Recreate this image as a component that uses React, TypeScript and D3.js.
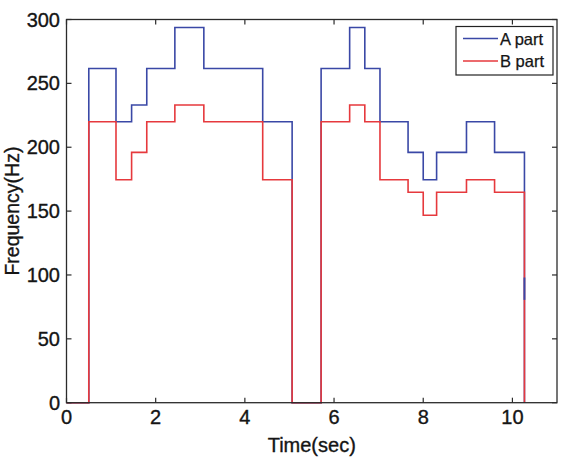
import React from "react";
import * as d3 from "d3";

// Segment start times (sec); each value holds until the next edge.
const EDGES = [0, 0.5, 1.11, 1.46, 1.8, 2.43, 3.08, 4.4, 5.06, 5.71, 6.35, 6.69, 7.03, 7.66, 8.0, 8.3, 8.97, 9.6, 10.27];
const A_PART = [0, 261.6, 220, 233.1, 261.6, 293.7, 261.6, 220, 0, 261.6, 293.7, 261.6, 220, 196, 174.6, 196, 220, 196, 0];
const B_PART = [0, 220, 174.6, 196, 220, 233.1, 220, 174.6, 0, 220, 233.1, 220, 174.6, 164.8, 146.8, 164.8, 174.6, 164.8, 0];
// Short residual of the A part at the final release
const A_TAIL = [98, 80.5];

const X_TICKS = [0, 2, 4, 6, 8, 10];
const Y_TICKS = [0, 50, 100, 150, 200, 250, 300];
const SERIES_NAMES = ["A part", "B part"];

const W = 564;
const H = 468;
const M = { left: 66.5, right: 557, top: 19.5, bottom: 402.7 };
const FONT = "'Liberation Sans', Arial, Helvetica, sans-serif";
const BLUE = "#3a48a6";
const RED = "#e6393d";
const AXIS = "#2b2b2b";
const INK = "#151515";

export default function App() {
  const x = d3.scaleLinear().domain([0, 11]).range([M.left, M.right]);
  const y = d3.scaleLinear().domain([0, 300]).range([M.bottom, M.top]);

  const stair = d3
    .line<[number, number]>()
    .x((d) => x(d[0]))
    .y((d) => y(d[1]))
    .curve(d3.curveStepAfter);

  const pts = (vals: number[]) => EDGES.map((t, i) => [t, vals[i]] as [number, number]);
  const lastT = EDGES[EDGES.length - 1];
  const tick = 5;
  const textProps = { fill: INK, stroke: INK, strokeWidth: 0.35 };

  return (
    <svg
      width={W}
      height={H}
      style={{ position: "absolute", left: 0, top: 0, background: "#fff" }}
      fontFamily={FONT}
    >
      <path d={stair(pts(A_PART)) || ""} fill="none" stroke={BLUE} strokeWidth={1.6} />
      <path d={stair(pts(B_PART)) || ""} fill="none" stroke={RED} strokeWidth={1.6} />
      <line
        x1={x(lastT)}
        x2={x(lastT)}
        y1={y(A_TAIL[0])}
        y2={y(A_TAIL[1])}
        stroke={BLUE}
        strokeWidth={1.8}
      />

      {/* axes box */}
      <rect
        x={M.left}
        y={M.top}
        width={M.right - M.left}
        height={M.bottom - M.top}
        fill="none"
        stroke={AXIS}
        strokeWidth={1.3}
      />

      {X_TICKS.map((t) => (
        <g key={"x" + t}>
          <line x1={x(t)} x2={x(t)} y1={M.bottom} y2={M.bottom - tick} stroke={AXIS} strokeWidth={1.2} />
          <line x1={x(t)} x2={x(t)} y1={M.top} y2={M.top + tick} stroke={AXIS} strokeWidth={1.2} />
          <text x={x(t)} y={M.bottom + 21} textAnchor="middle" fontSize={20} {...textProps}>
            {t}
          </text>
        </g>
      ))}
      {Y_TICKS.map((v) => (
        <g key={"y" + v}>
          <line x1={M.left} x2={M.left + tick} y1={y(v)} y2={y(v)} stroke={AXIS} strokeWidth={1.2} />
          <line x1={M.right} x2={M.right - tick} y1={y(v)} y2={y(v)} stroke={AXIS} strokeWidth={1.2} />
          <text x={60} y={y(v) + 7} textAnchor="end" fontSize={20} {...textProps}>
            {v}
          </text>
        </g>
      ))}

      <text x={(M.left + M.right) / 2} y={452} textAnchor="middle" fontSize={20} {...textProps}>
        Time(sec)
      </text>
      <text
        transform={`translate(19,${(M.top + M.bottom) / 2}) rotate(-90)`}
        textAnchor="middle"
        fontSize={19.5}
        {...textProps}
      >
        Frequency(Hz)
      </text>

      {/* legend */}
      <g>
        <rect x={456} y={26.5} width={97} height={48.5} fill="#fff" stroke="#222" strokeWidth={1.2} />
        {SERIES_NAMES.map((name, i) => (
          <g key={name} transform={`translate(0,${38.5 + i * 22.5})`}>
            <line x1={463} x2={498} y1={0} y2={0} stroke={i === 0 ? BLUE : RED} strokeWidth={1.3} />
            <text x={500} y={6} fontSize={16.5} {...textProps} strokeWidth={0.25}>
              {name}
            </text>
          </g>
        ))}
      </g>
    </svg>
  );
}
